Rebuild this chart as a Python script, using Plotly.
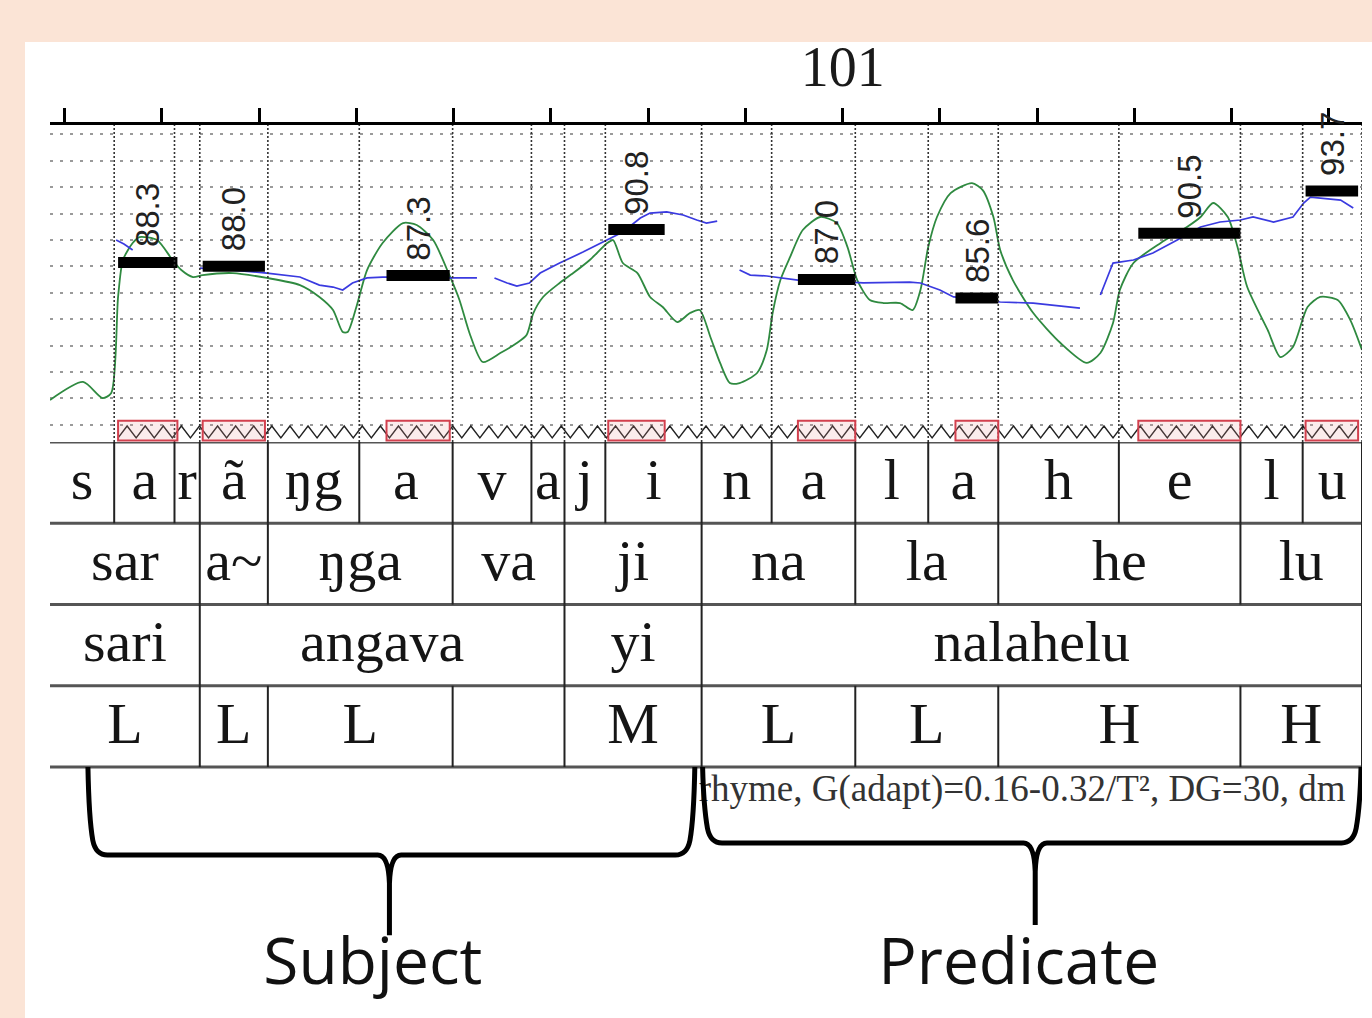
import numpy as np
import plotly.graph_objects as go

# ---------------- data ----------------
TICKS = [100.2, 100.3, 100.4, 100.5, 100.6, 100.7, 100.8, 100.9, 101.0,
         101.1, 101.2, 101.3, 101.4, 101.5]
TICK_TEXT = ["", "", "", "", "", "", "", "", "101", "", "", "", "", ""]

PHONE_BOUNDS = [100.185, 100.251, 100.313, 100.339, 100.409, 100.503, 100.599,
                100.680, 100.714, 100.756, 100.855, 100.927, 101.013, 101.088,
                101.160, 101.284, 101.409, 101.473, 101.534]
PHONES = ["s", "a", "r", "ã", "ŋg", "a", "v", "a", "j", "i",
          "n", "a", "l", "a", "h", "e", "l", "u"]
SYL_BOUNDS = [100.185, 100.339, 100.409, 100.599, 100.714, 100.855,
              101.013, 101.160, 101.409, 101.534]
SYLS = ["sar", "a~", "ŋga", "va", "ji", "na", "la", "he", "lu"]
WORD_BOUNDS = [100.185, 100.339, 100.714, 100.855, 101.534]
WORDS = ["sari", "angava", "yi", "nalahelu"]
TONE_BOUNDS = SYL_BOUNDS
TONES = ["L", "L", "L", "", "M", "L", "L", "H", "H"]

# nuclei (s) and stylised pitch (ST)
NUC_START = [100.255, 100.342, 100.531, 100.759, 100.954, 101.116, 101.304, 101.476]
NUC_END = [100.316, 100.406, 100.596, 100.817, 101.013, 101.160, 101.409, 101.530]
NUC_ST = [88.3, 88.0, 87.3, 90.8, 87.0, 85.6, 90.5, 93.7]
NUC_LABEL = ["88.3", "88.0", "87.3", "90.8", "87.0", "85.6", "90.5", "93.7"]

# intensity curve (green)
INT_T = [100.185, 100.219, 100.239, 100.248, 100.255, 100.260, 100.270, 100.277,
         100.295, 100.311, 100.320, 100.332, 100.342, 100.373, 100.408, 100.442,
         100.462, 100.476, 100.486, 100.491, 100.500, 100.511, 100.527, 100.548,
         100.562, 100.579, 100.596, 100.606, 100.617, 100.630, 100.648, 100.665,
         100.675, 100.682, 100.692, 100.709, 100.723, 100.740, 100.758, 100.764,
         100.774, 100.789, 100.802, 100.815, 100.830, 100.843, 100.853, 100.864,
         100.874, 100.884, 100.894, 100.912, 100.922, 100.928, 100.936, 100.946,
         100.959, 100.977, 100.994, 101.005, 101.015, 101.028, 101.042, 101.059,
         101.072, 101.080, 101.088, 101.097, 101.111, 101.133, 101.144, 101.155,
         101.162, 101.175, 101.196, 101.224, 101.251, 101.265, 101.278, 101.285,
         101.299, 101.327, 101.354, 101.368, 101.381, 101.396, 101.406, 101.416,
         101.437, 101.450, 101.463, 101.478, 101.491, 101.509, 101.522, 101.534]
INT_V = [77.87, 79.24, 78.02, 78.40, 85.68, 88.48, 89.77, 90.22,
         89.99, 88.48, 87.72, 87.19, 87.34, 87.49, 87.12, 86.58,
         85.68, 84.69, 83.02, 83.02, 84.92, 87.72, 89.77, 91.28,
         91.13, 89.99, 87.27, 85.45, 82.80, 80.75, 81.43, 82.19,
         82.80, 84.46, 85.68, 86.74, 87.49, 88.48, 89.77, 89.99,
         88.25, 87.49, 85.68, 84.92, 83.78, 84.46, 84.69, 82.65,
         80.68, 79.16, 79.16, 79.92, 81.66, 84.46, 86.96, 88.71,
         90.75, 91.74, 91.28, 89.46, 86.96, 85.45, 85.22, 85.22,
         84.69, 86.21, 89.46, 91.74, 93.55, 94.31, 93.78, 91.74,
         89.24, 86.96, 84.46, 82.19, 80.68, 81.43, 83.71, 86.21,
         88.25, 89.77, 90.98, 91.74, 92.80, 91.74, 89.46, 86.43,
         83.18, 81.13, 81.89, 84.92, 85.68, 85.45, 83.93, 81.66]

# pitch curve (blue), segments separated by None
F0_T = [100.253, 100.261, 100.270, None,
        100.339, 100.373, 100.408, 100.442, 100.462, 100.476, 100.486, 100.496,
        100.511, 100.527, 100.565, 100.596, 100.624, None,
        100.642, 100.655, 100.665, 100.678, 100.689, 100.709, 100.733, 100.758,
        100.774, 100.792, 100.802, 100.819, 100.836, 100.850, 100.860, 100.871, None,
        100.894, 100.905, 100.922, 100.936, 100.954, 100.987, 101.021, 101.069,
        101.080, 101.100, 101.114, 101.141, 101.162, 101.196, 101.244, None,
        101.265, 101.278, 101.299, 101.319, 101.344, 101.368, 101.388, 101.409,
        101.422, 101.443, 101.463, 101.474, 101.481, 101.512, 101.525]
F0_V = [89.99, 89.69, 89.24, None,
        87.87, 87.72, 87.49, 87.19, 86.58, 86.43, 86.21, 86.74,
        87.12, 87.19, 87.19, 87.12, 87.12, None,
        87.12, 86.74, 86.51, 86.74, 87.49, 88.25, 89.08, 89.99,
        90.60, 91.66, 92.04, 92.12, 91.89, 91.51, 91.28, 91.43, None,
        87.72, 87.34, 87.27, 87.12, 86.96, 86.89, 86.74, 86.81,
        86.74, 86.21, 85.68, 85.52, 85.30, 85.22, 84.84, None,
        85.83, 88.25, 88.48, 89.01, 89.99, 90.98, 91.36, 91.51,
        91.74, 91.36, 91.74, 92.80, 93.25, 93.02, 92.42]

# brackets: label, left, middle, right (s), bar level, tip level (tier rows)
BRACES = [("Subject", 100.224, 100.534, 100.848, 5.083, 6.07),
          ("Predicate", 100.856, 101.198, 101.533, 4.935, 5.945)]
NOTE = "rhyme, G(adapt)=0.16-0.32/T², DG=30, dm"

# ---------------- figure ----------------
W, H = 1372, 1018
X0, X1 = PHONE_BOUNDS[0], PHONE_BOUNDS[-1]
SERIF = "Liberation Serif, Times New Roman, serif"

fig = go.Figure()

# zig-zag nucleus-track pattern (decorative)
zz_x = np.arange(NUC_START[0], NUC_END[-1], 0.0093)
zz_y = np.where(np.arange(len(zz_x)) % 2 == 0, 75.0, 75.9)
fig.add_trace(go.Scatter(x=zz_x, y=zz_y, mode="lines",
                         line=dict(color="#222", width=1.4), hoverinfo="skip"))

# intensity
fig.add_trace(go.Scatter(x=INT_T, y=INT_V, mode="lines",
                         line=dict(color="#2f8a40", width=1.8, shape="spline", smoothing=0.7),
                         hoverinfo="skip"))
# f0
fig.add_trace(go.Scatter(x=F0_T, y=F0_V, mode="lines", connectgaps=False,
                         line=dict(color="#3a3ae0", width=1.7), hoverinfo="skip"))
# stylised nuclei bars
bx, by = [], []
for s, e, v in zip(NUC_START, NUC_END, NUC_ST):
    bx += [s, e, None]
    by += [v, v, None]
fig.add_trace(go.Scatter(x=bx, y=by, mode="lines",
                         line=dict(color="black", width=11), hoverinfo="skip"))

shapes = []
# white card
shapes.append(dict(type="rect", xref="paper", yref="paper", x0=25 / W, x1=1,
                   y0=0, y1=1 - 42 / H, fillcolor="white", line=dict(width=0),
                   layer="below"))
# vertical dotted segment boundaries in the pitch panel
for b in PHONE_BOUNDS[1:]:
    shapes.append(dict(type="line", xref="x", yref="y domain", x0=b, x1=b, y0=0, y1=1,
                       line=dict(color="#333", width=1.6, dash="2px,2px")))
# nucleus boxes
for s, e in zip(NUC_START, NUC_END):
    shapes.append(dict(type="rect", xref="x", yref="y", x0=s, x1=e, y0=74.8, y1=76.3,
                       line=dict(color="#d2404e", width=2),
                       fillcolor="rgba(235,150,150,0.18)"))
# tier horizontal rules
for r in range(5):
    shapes.append(dict(type="line", xref="x", yref="y2", x0=X0, x1=X1, y0=r, y1=r,
                       line=dict(color="#555", width=3)))
# tier vertical boundaries
for r, bounds in enumerate([PHONE_BOUNDS, SYL_BOUNDS, WORD_BOUNDS, TONE_BOUNDS]):
    for b in bounds[1:]:
        shapes.append(dict(type="line", xref="x", yref="y2", x0=b, x1=b, y0=r, y1=r + 1,
                           line=dict(color="#222", width=2)))


def brace_path(xl, xm, xr, yh, yt, ytop=4.0):
    return (f"M{xl},{ytop} Q{xl + 0.001},{yh - 0.45} {xl + 0.005},{yh - 0.18} "
            f"Q{xl + 0.008},{yh} {xl + 0.02},{yh} "
            f"L{xm - 0.012},{yh} Q{xm - 0.001},{yh} {xm},{yh + 0.35} L{xm},{yt} "
            f"M{xm},{yh + 0.35} Q{xm + 0.001},{yh} {xm + 0.012},{yh} "
            f"L{xr - 0.02},{yh} Q{xr - 0.008},{yh} {xr - 0.005},{yh - 0.18} "
            f"Q{xr - 0.001},{yh - 0.45} {xr},{ytop}")


for name, xl, xm, xr, yh, yt in BRACES:
    shapes.append(dict(type="path", xref="x", yref="y2",
                       path=brace_path(xl, xm, xr, yh, yt),
                       line=dict(color="black", width=5)))

# tier labels
for r, (bounds, labs) in enumerate([(PHONE_BOUNDS, PHONES), (SYL_BOUNDS, SYLS),
                                    (WORD_BOUNDS, WORDS), (TONE_BOUNDS, TONES)]):
    mids = [(a + b) / 2 for a, b in zip(bounds[:-1], bounds[1:])]
    fig.add_trace(go.Scatter(x=mids, y=[r + 0.52] * len(mids), yaxis="y2",
                             mode="text", text=labs, textposition="middle center",
                             textfont=dict(family=SERIF, size=58, color="#151515"),
                             hoverinfo="skip"))

# note line
fig.add_trace(go.Scatter(x=[100.852], y=[4.3], yaxis="y2", mode="text", text=[NOTE],
                         textposition="middle right", cliponaxis=False,
                         textfont=dict(family=SERIF, size=37, color="#333"),
                         hoverinfo="skip"))
# Subject / Predicate
fig.add_trace(go.Scatter(x=[b[2] - 0.017 for b in BRACES], y=[6.47, 6.47], yaxis="y2",
                         mode="text", text=[b[0] for b in BRACES],
                         textposition="middle center",
                         textfont=dict(family="Open Sans, sans-serif", size=64, color="#111"),
                         hoverinfo="skip"))

annotations = []
for s, e, v, lab in zip(NUC_START, NUC_END, NUC_ST, NUC_LABEL):
    annotations.append(dict(x=(s + e) / 2, y=v, xref="x", yref="y", text=lab,
                            textangle=-90, showarrow=False, xanchor="center",
                            yanchor="bottom", yshift=13,
                            font=dict(family="Liberation Sans, Arial, sans-serif",
                                      size=33, color="#222")))

fig.update_layout(
    width=W, height=H, margin=dict(l=0, r=0, t=0, b=0),
    paper_bgcolor="#fbe4d6", plot_bgcolor="rgba(0,0,0,0)",
    showlegend=False, shapes=shapes, annotations=annotations,
    xaxis=dict(domain=[50 / W, 1362 / W], range=[X0, X1], anchor="y", side="top",
               showline=True, linecolor="black", linewidth=3, mirror=False,
               ticks="outside", ticklen=14, tickwidth=3, tickcolor="black",
               tickvals=TICKS, ticktext=TICK_TEXT, ticklabelstandoff=0,
               tickfont=dict(family=SERIF, size=56, color="#1a1a1a"),
               showgrid=False, zeroline=False),
    yaxis=dict(domain=[1 - 442 / H, 1 - 125 / H], range=[74.69, 98.71],
               showgrid=True, gridcolor="#9a9a9a", gridwidth=1.5, griddash="3px,7px",
               dtick=2, tick0=0, showticklabels=False, zeroline=False, showline=False,
               ticks=""),
    yaxis2=dict(domain=[0, 1 - 442 / H], range=[7.089, 0], anchor="x",
                showgrid=False, showticklabels=False, zeroline=False, showline=False),
)

fig.write_html("out.html", config={"displayModeBar": False},
               post_script="document.body.style.margin='0px';")
